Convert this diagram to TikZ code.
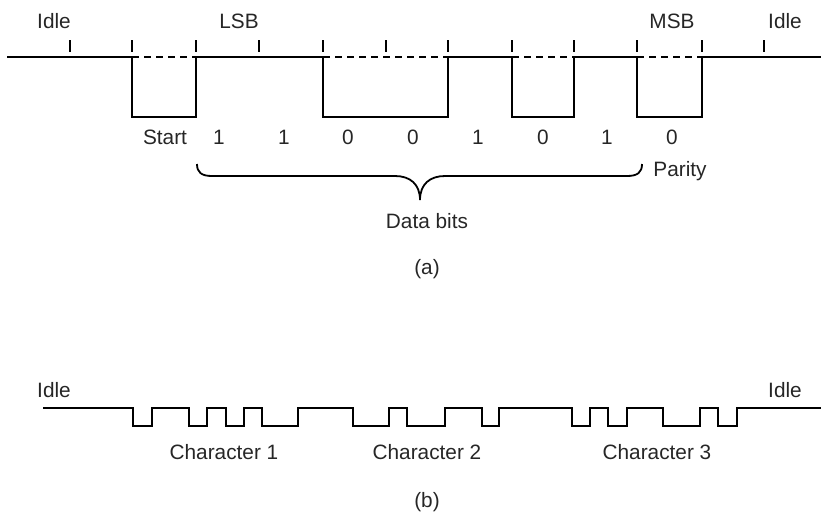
\documentclass[tikz,border=0pt]{standalone}
\usepackage{fontspec}
\setmainfont{Liberation Sans}
\tikzset{
  lbl/.style={font=\fontsize{10.4}{12}\selectfont, anchor=base, inner sep=0pt, text=black!85},
  wave/.style={line width=1pt, line join=miter},
  tickmark/.style={line width=0.55pt},
  idleline/.style={line width=0.8pt, dash pattern=on 3.5pt off 2.5pt},
  bracepath/.style={line width=0.9pt}
}

\begin{document}
\begin{tikzpicture}[x=0.5pt, y=-0.5pt]
  \useasboundingbox (0,0) rectangle (821,511);

  % (a) one character
  \foreach \tx in {70,132,196,259,323,386,448,512,574,637,702,764}
    \draw[tickmark] (\tx,40) -- (\tx,52);
  \draw[wave] (7,57) -- (132,57) -- (132,117) -- (196,117) -- (196,57)
    -- (323,57) -- (323,117) -- (448,117) -- (448,57) -- (512,57)
    -- (512,117) -- (574,117) -- (574,57) -- (637,57) -- (637,117)
    -- (702,117) -- (702,57) -- (821,57);
  \foreach \a/\b in {132/196,323/448,512/574,637/702}
    \draw[idleline] (\a,57) -- (\b,57);

  \node[lbl] (idleA) at (54,28) {Idle};
  \node[lbl] (lsb) at (239,28) {LSB};
  \node[lbl] (msb) at (672,28) {MSB};
  \node[lbl] (idleB) at (785,28) {Idle};

  \node[lbl] (start) at (165,144) {Start};
  \foreach \x/\v [count=\i] in {219/1,284/1,348/0,413/0,478/1,543/0,607/1,672/0}
    \node[lbl] (bit\i) at (\x,144) {\v};

  \coordinate (braceL) at (197,164);
  \coordinate (braceTip) at (420,200);
  \coordinate (braceR) at (642,164);
  \draw[bracepath] (braceL) .. controls (197,172) and (201,176) .. (212,176)
    -- (395,176) .. controls (410,176) and (420,184) .. (braceTip)
    .. controls (420,184) and (430,176) .. (445,176)
    -- (627,176) .. controls (638,176) and (642,172) .. (braceR);

  \node[lbl, anchor=base west] (parity) at (653,176) {Parity};
  \node[lbl] (databits) at (427,228) {Data bits};
  \node[lbl] (capA) at (427,274) {(a)};

  % (b) three characters
  \draw[wave] (43,408)
    \foreach \u/\d in {133/152,189/207,226/244,262/298,353/389,407/445,482/499,
                       572/590,608/627,663/700,718/737}
      { -- (\u,408) -- (\u,426) -- (\d,426) -- (\d,408) }
    -- (821,408);

  \node[lbl] (idleC) at (54,397) {Idle};
  \node[lbl] (idleD) at (785,397) {Idle};
  \node[lbl] (char1) at (224,459) {Character 1};
  \node[lbl] (char2) at (427,459) {Character 2};
  \node[lbl] (char3) at (657,459) {Character 3};
  \node[lbl] (capB) at (427,507) {(b)};
\end{tikzpicture}
\end{document}
